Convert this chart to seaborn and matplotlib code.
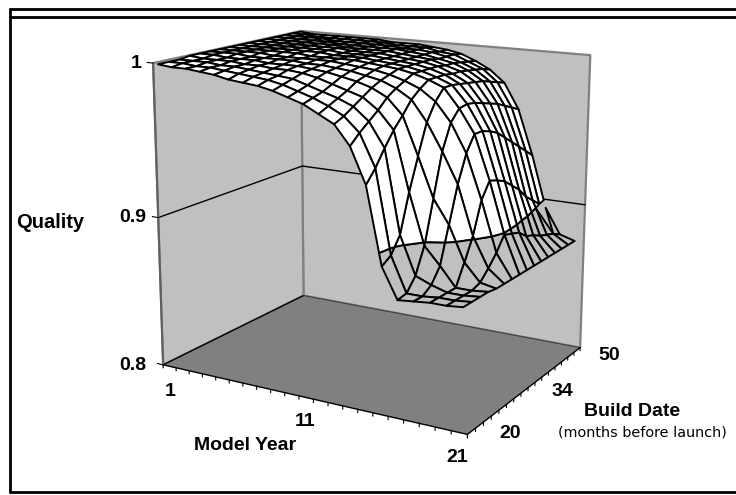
import numpy as np
import matplotlib
matplotlib.use('Agg')
import matplotlib.pyplot as plt
import seaborn as sns
from mpl_toolkits.mplot3d.art3d import Poly3DCollection

sns.set_theme(style='white')

model_years = list(range(1, 22))
build_dates = list(range(20, 52, 2))

# quality, one list per build date, model year 1 to 21
q20 = [.999, .998, .998, .997, .996, .994, .993, .992, .990, .987, .984, .979, .974, .962, .940, .892, .873, .874, .875, .875, .876]
q22 = [.999, .999, .998, .998, .997, .996, .995, .994, .992, .989, .986, .982, .977, .968, .948, .896, .874, .874, .875, .875, .876]
q24 = [.999, .999, .999, .998, .998, .997, .996, .995, .994, .991, .988, .985, .981, .973, .958, .906, .882, .878, .875, .875, .876]
q26 = [1.0, .999, .999, .999, .998, .998, .997, .997, .996, .994, .991, .988, .985, .978, .967, .930, .898, .887, .875, .875, .876]
q28 = [1.0, 1.0, .999, .999, .999, .998, .998, .998, .997, .996, .994, .992, .989, .984, .974, .950, .925, .910, .888, .877, .875]
q30 = [1.0, 1.0, 1.0, .999, .999, .999, .999, .998, .998, .997, .996, .994, .992, .988, .982, .969, .952, .933, .902, .883, .875]
q32 = [1.0, 1.0, 1.0, 1.0, .999, .999, .999, .999, .999, .998, .997, .996, .994, .991, .987, .980, .968, .950, .922, .890, .875]
q34 = [1.0, 1.0, 1.0, 1.0, 1.0, 1.0, .999, .999, .999, .999, .998, .997, .996, .994, .991, .987, .975, .960, .932, .899, .875]
q36 = [1.0, 1.0, 1.0, 1.0, 1.0, 1.0, 1.0, .999, .999, .999, .998, .997, .996, .994, .991, .987, .976, .960, .930, .897, .875]
q38 = [1.0, 1.0, 1.0, 1.0, 1.0, 1.0, 1.0, .999, .999, .999, .998, .997, .996, .994, .991, .986, .975, .958, .927, .895, .875]
q40 = [1.0, 1.0, 1.0, 1.0, 1.0, 1.0, 1.0, .999, .999, .999, .998, .997, .996, .994, .990, .985, .973, .955, .922, .890, .875]
q42 = [1.0, 1.0, 1.0, 1.0, 1.0, 1.0, .999, .999, .999, .999, .998, .997, .996, .993, .990, .984, .971, .950, .917, .888, .875]
q44 = [1.0, 1.0, 1.0, 1.0, 1.0, .999, .999, .999, .999, .999, .998, .997, .995, .993, .989, .983, .969, .945, .910, .885, .875]
q46 = [1.0, 1.0, 1.0, 1.0, .999, .999, .999, .999, .999, .998, .998, .997, .995, .992, .988, .981, .966, .940, .905, .883, .875]
q48 = [1.0, 1.0, .999, .999, .999, .999, .999, .999, .998, .998, .998, .996, .995, .991, .987, .979, .963, .935, .900, .881, .875]
q50 = [1.0, .999, .999, .999, .999, .999, .999, .998, .998, .998, .997, .996, .994, .990, .985, .977, .960, .930, .895, .878, .875]

quality = np.array([q20, q22, q24, q26, q28, q30, q32, q34, q36, q38, q40, q42, q44, q46, q48, q50])

quality_ticks = [0.8, 0.9, 1.0]
x_lo, x_hi = 0.85, 21.5
y_lo, y_hi = 19.5, 50.5
z_lo, z_hi = 0.8, 1.0

W, H = 736, 495
fig = plt.figure(figsize=(W / 100, H / 100), dpi=100)
# square axes as wide as the figure, mplot3d always keeps a square box
ax = fig.add_axes([0, -(W - H) / 2 / H, 1, W / H], projection='3d')
ax.set_axis_off()
ax.computed_zorder = False
ax.set_xlim(x_lo, x_hi)
ax.set_ylim(y_lo, y_hi)
ax.set_zlim(z_lo, z_hi)

# camera fitted to where the box corners sit in the picture (unit cube -> pixels)
cube = np.array([[0, 0, 0], [1, 0, 0], [1, 1, 0], [0, 1, 0], [0, 0, 1], [0, 1, 1], [1, 1, 1],
                 [0, 0, .5], [0, 1, .5], [1, 1, .5]], float)
pix = np.array([[163, 365], [468, 435], [580, 347], [304, 296], [153, 65], [301, 30], [591, 55],
                [158, 215], [302, 167], [584, 205]], float)
u0, u1 = ax.viewLim.intervalx
v0, v1 = ax.viewLim.intervaly
u = u0 + pix[:, 0] / W * (u1 - u0)
v = v0 + ((H + W) / 2 - pix[:, 1]) / W * (v1 - v0)
rows, rhs = [], []
for (a, b, c), ui, vi in zip(cube, u, v):
    rows.append([a, b, c, 1, 0, 0, 0, 0, -ui * a, -ui * b, -ui * c])
    rhs.append(ui)
    rows.append([0, 0, 0, 0, a, b, c, 1, -vi * a, -vi * b, -vi * c])
    rhs.append(vi)
p = np.linalg.lstsq(np.array(rows), np.array(rhs), rcond=None)[0]
p1, p2, p4 = p[:4], p[4:8], np.r_[p[8:], 1.0]
unit = np.array([[1 / (x_hi - x_lo), 0, 0, -x_lo / (x_hi - x_lo)],
                 [0, 1 / (y_hi - y_lo), 0, -y_lo / (y_hi - y_lo)],
                 [0, 0, 1 / (z_hi - z_lo), -z_lo / (z_hi - z_lo)],
                 [0, 0, 0, 1]])
M = np.array([p1, p2, -np.array([0, 0, 0, 1.0]), p4]) @ unit
ax.get_proj = lambda: M


def band_split(xs, ys, zs, level):
    # cut one grid cell at the colour band boundary
    upper, lower = [], []
    n = len(xs)
    for k in range(n):
        a = (xs[k], ys[k], zs[k])
        b = (xs[(k + 1) % n], ys[(k + 1) % n], zs[(k + 1) % n])
        (upper if a[2] >= level else lower).append(a)
        if (a[2] - level) * (b[2] - level) < 0:
            t = (level - a[2]) / (b[2] - a[2])
            cut = (a[0] + t * (b[0] - a[0]), a[1] + t * (b[1] - a[1]), level)
            upper.append(cut)
            lower.append(cut)
    return upper, lower


# walls and floor
walls = Poly3DCollection(
    [[(x_lo, y_lo, z_lo), (x_lo, y_hi, z_lo), (x_lo, y_hi, z_hi), (x_lo, y_lo, z_hi)],
     [(x_lo, y_hi, z_lo), (x_hi, y_hi, z_lo), (x_hi, y_hi, z_hi), (x_lo, y_hi, z_hi)]],
    facecolors='#C0C0C0', edgecolors='#808080', linewidths=1.6, zorder=1)
ax.add_collection3d(walls)
floor = Poly3DCollection([[(x_lo, y_lo, z_lo), (x_hi, y_lo, z_lo), (x_hi, y_hi, z_lo), (x_lo, y_hi, z_lo)]],
                         facecolors='#808080', edgecolors='none', zorder=1)
ax.add_collection3d(floor)

# gridlines and box edges
ax.plot([x_lo, x_lo, x_hi], [y_lo, y_hi, y_hi], [.9, .9, .9], color='black', lw=1, zorder=2)
ax.plot([x_lo, x_lo], [y_lo, y_hi], [z_lo, z_lo], color='black', lw=1, zorder=2)
ax.plot([x_lo, x_hi], [y_hi, y_hi], [z_lo, z_lo], color='#404040', lw=0.8, zorder=2)
ax.plot([x_lo, x_hi, x_hi], [y_lo, y_lo, y_hi], [z_lo, z_lo, z_lo], color='black', lw=1, zorder=2)
ax.plot([x_lo, x_lo], [y_lo, y_lo], [z_lo, z_hi], color='#606060', lw=1.5, zorder=2)

# surface
polys, colors = [], []
for j in range(len(build_dates) - 1):
    for i in range(len(model_years) - 1):
        xs = [model_years[i], model_years[i + 1], model_years[i + 1], model_years[i]]
        ys = [build_dates[j], build_dates[j], build_dates[j + 1], build_dates[j + 1]]
        zs = [quality[j, i], quality[j, i + 1], quality[j + 1, i + 1], quality[j + 1, i]]
        upper, lower = band_split(xs, ys, zs, 0.9)
        if len(upper) > 2:
            polys.append(upper)
            colors.append('white')
        if len(lower) > 2:
            polys.append(lower)
            colors.append('#C0C0C0')
surface = Poly3DCollection(polys, facecolors=colors, edgecolors='black', linewidths=1.4, zorder=3)
ax.add_collection3d(surface)

# tick marks
for edge in np.linspace(x_lo, x_hi, 22):
    ax.plot([edge, edge], [y_lo, y_lo], [z_lo, z_lo - .0022], color='black', lw=0.8, zorder=4)
for edge in np.linspace(y_lo, y_hi, 17):
    ax.plot([x_hi, x_hi], [edge, edge], [z_lo, z_lo - .0022], color='black', lw=0.8, zorder=4)
for tick in quality_ticks:
    ax.plot([x_lo, x_lo - .45], [y_lo, y_lo], [tick, tick], color='black', lw=0.8, zorder=4)

# text
bold = dict(family='Liberation Sans', fontweight='bold', fontsize=14, color='black', va='center')


def label(px, py, s, **kw):
    fig.text(px / W, 1 - py / H, s, **{**bold, **kw})


label(136, 64, '1', ha='center')
label(133, 218, '0.9', ha='center')
label(133, 366, '0.8', ha='center')
label(170, 392, '1', ha='center')
label(305, 421, '11', ha='center')
label(457, 457, '21', ha='center')
label(510, 434, '20', ha='center')
label(562, 391, '34', ha='center')
label(609, 356, '50', ha='center')
label(16, 222, 'Quality', ha='left', fontsize=14.5)
label(245, 445, 'Model Year', ha='center')
label(632, 412, 'Build Date', ha='center')
label(642, 433, '(months before launch)', ha='center', family='DejaVu Sans', fontweight='normal', fontsize=10.4)

# chart frame, it has no right side
for x0, y0, x1, y1 in [(10, 9, W, 9), (10, 17, W, 17), (10, 9, 10, 492), (10, 492, W, 492)]:
    fig.add_artist(plt.Line2D([x0 / W, x1 / W], [1 - y0 / H, 1 - y1 / H], color='black', lw=2))

fig.savefig('out.png', dpi=100)
